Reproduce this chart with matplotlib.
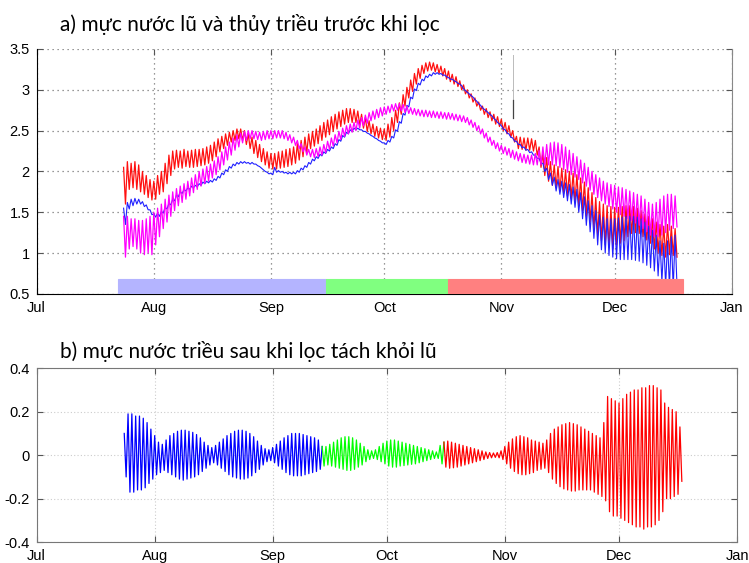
import numpy as np
import matplotlib
matplotlib.use("Agg")
import matplotlib.pyplot as plt

plt.rcParams['font.family'] = ['Liberation Sans', 'DejaVu Sans']

# day number counted from 1 July, one high + one low per day (diurnal tide)
days = np.arange(23, 170)

month_pos = [0, 31, 62, 92, 123, 153, 184]
month_names = ['Jul', 'Aug', 'Sep', 'Oct', 'Nov', 'Dec', 'Jan']

# ---- a) water level before filtering (m) ----
red_hi = [2.05, 2.12, 2.1, 2.12, 2.08, 2.0, 1.95, 1.9, 1.88, 1.95,
          2.0, 2.1, 2.2, 2.25, 2.26, 2.25, 2.27, 2.25, 2.26, 2.27,
          2.27, 2.28, 2.3, 2.32, 2.36, 2.4, 2.43, 2.46, 2.48, 2.5,
          2.52, 2.52, 2.5, 2.46, 2.42, 2.38, 2.33, 2.28, 2.24, 2.22,
          2.22, 2.24, 2.25, 2.27, 2.28, 2.3, 2.34, 2.38, 2.42, 2.46,
          2.49, 2.52, 2.56, 2.6, 2.63, 2.67, 2.7, 2.73, 2.75, 2.77,
          2.77, 2.76, 2.74, 2.7, 2.66, 2.62, 2.58, 2.55, 2.53, 2.52,
          2.58, 2.66, 2.75, 2.84, 2.94, 3.03, 3.12, 3.2, 3.26, 3.3,
          3.33, 3.34, 3.33, 3.31, 3.29, 3.26, 3.23, 3.19, 3.16, 3.11,
          3.06, 3.0, 2.95, 2.9, 2.85, 2.8, 2.77, 2.73, 2.7, 2.67,
          2.64, 2.6, 2.56, 2.5, 2.43, 2.42, 2.41, 2.41, 2.4, 2.38,
          2.3, 2.22, 2.17, 2.12, 2.08, 2.06, 2.04, 2.02, 2.0, 1.98,
          1.96, 1.92, 1.87, 1.8, 1.74, 1.68, 1.63, 1.6, 1.58, 1.57,
          1.56, 1.56, 1.57, 1.58, 1.58, 1.57, 1.55, 1.52, 1.48, 1.45,
          1.42, 1.38, 1.35, 1.33, 1.35, 1.33, 1.3]
red_lo = [1.6, 1.78, 1.8, 1.78, 1.75, 1.72, 1.68, 1.65, 1.66, 1.72,
          1.75, 1.85, 1.95, 2.03, 2.05, 2.04, 2.06, 2.05, 2.05, 2.06,
          2.07, 2.08, 2.1, 2.13, 2.18, 2.24, 2.28, 2.32, 2.36, 2.38,
          2.4, 2.38, 2.33, 2.28, 2.22, 2.17, 2.12, 2.08, 2.04, 2.03,
          2.03, 2.04, 2.05, 2.06, 2.08, 2.1, 2.14, 2.18, 2.23, 2.28,
          2.31, 2.34, 2.38, 2.42, 2.45, 2.49, 2.52, 2.55, 2.58, 2.6,
          2.6, 2.6, 2.57, 2.53, 2.49, 2.46, 2.43, 2.41, 2.39, 2.38,
          2.42, 2.5, 2.6, 2.7, 2.8, 2.9, 2.98, 3.07, 3.14, 3.2,
          3.23, 3.24, 3.22, 3.2, 3.17, 3.13, 3.1, 3.07, 3.04, 3.0,
          2.95, 2.9, 2.85, 2.8, 2.75, 2.7, 2.66, 2.62, 2.58, 2.55,
          2.5, 2.46, 2.42, 2.36, 2.28, 2.27, 2.26, 2.26, 2.25, 2.2,
          2.05, 1.95, 1.88, 1.83, 1.8, 1.76, 1.73, 1.7, 1.67, 1.63,
          1.58, 1.52, 1.45, 1.38, 1.3, 1.22, 1.15, 1.1, 1.07, 1.05,
          1.1, 1.12, 1.15, 1.2, 1.24, 1.25, 1.24, 1.2, 1.16, 1.12,
          1.05, 1.0, 0.97, 0.95, 0.98, 0.97, 0.95]

blue_hi = [1.55, 1.62, 1.66, 1.67, 1.66, 1.63, 1.59, 1.53, 1.48, 1.49,
           1.51, 1.56, 1.61, 1.66, 1.71, 1.75, 1.78, 1.8, 1.82, 1.83,
           1.85, 1.87, 1.88, 1.89, 1.91, 1.94, 1.98, 2.02, 2.06, 2.09,
           2.11, 2.12, 2.12, 2.11, 2.11, 2.09, 2.06, 2.02, 1.99, 1.98,
           2.05, 2.01, 2.0, 1.99, 1.99, 1.99, 2.01, 2.04, 2.07, 2.11,
           2.15, 2.18, 2.21, 2.24, 2.27, 2.3, 2.34, 2.39, 2.44, 2.48,
           2.51, 2.53, 2.53, 2.51, 2.49, 2.46, 2.43, 2.4, 2.37, 2.35,
           2.38, 2.43, 2.51, 2.61, 2.71, 2.81, 2.91, 3.01, 3.08, 3.13,
           3.17, 3.19, 3.21, 3.21, 3.2, 3.18, 3.15, 3.13, 3.1, 3.07,
           3.01, 2.97, 2.93, 2.88, 2.83, 2.78, 2.74, 2.7, 2.65, 2.6,
           2.56, 2.51, 2.46, 2.41, 2.37, 2.33, 2.3, 2.27, 2.24, 2.2,
           2.16, 2.1, 2.04, 1.98, 1.93, 1.9, 1.88, 1.86, 1.84, 1.81,
           1.78, 1.74, 1.69, 1.64, 1.58, 1.52, 1.47, 1.44, 1.42, 1.42,
           1.42, 1.43, 1.44, 1.45, 1.45, 1.45, 1.44, 1.42, 1.38, 1.33,
           1.28, 1.22, 1.15, 1.12, 1.15, 1.2, 1.22]
blue_lo = [1.35, 1.54, 1.58, 1.6, 1.6, 1.57, 1.53, 1.47, 1.44, 1.45,
           1.49, 1.54, 1.59, 1.64, 1.69, 1.73, 1.76, 1.78, 1.8, 1.81,
           1.83, 1.85, 1.86, 1.87, 1.89, 1.92, 1.96, 2.0, 2.04, 2.07,
           2.09, 2.1, 2.1, 2.09, 2.09, 2.07, 2.04, 2.0, 1.97, 1.96,
           1.99, 1.99, 1.98, 1.97, 1.97, 1.97, 1.99, 2.02, 2.05, 2.09,
           2.13, 2.16, 2.19, 2.22, 2.25, 2.28, 2.32, 2.37, 2.42, 2.46,
           2.49, 2.51, 2.51, 2.49, 2.47, 2.44, 2.41, 2.38, 2.35, 2.33,
           2.36, 2.41, 2.49, 2.59, 2.69, 2.79, 2.89, 2.99, 3.06, 3.11,
           3.15, 3.17, 3.19, 3.19, 3.18, 3.16, 3.13, 3.11, 3.08, 3.05,
           2.99, 2.95, 2.91, 2.86, 2.81, 2.76, 2.72, 2.68, 2.63, 2.58,
           2.52, 2.47, 2.42, 2.37, 2.33, 2.29, 2.26, 2.23, 2.2, 2.16,
           2.1, 2.0, 1.9, 1.83, 1.76, 1.72, 1.68, 1.64, 1.6, 1.56,
           1.5, 1.42, 1.34, 1.26, 1.18, 1.1, 1.04, 1.0, 0.97, 0.95,
           0.93, 0.92, 0.92, 0.92, 0.92, 0.91, 0.9, 0.88, 0.85, 0.82,
           0.78, 0.72, 0.65, 0.6, 0.58, 0.57, 0.6]

mag_hi = [1.45, 1.45, 1.42, 1.42, 1.4, 1.4, 1.42, 1.45, 1.5, 1.55,
          1.6, 1.66, 1.71, 1.75, 1.79, 1.82, 1.85, 1.88, 1.92, 1.96,
          2.0, 2.03, 2.06, 2.09, 2.13, 2.18, 2.24, 2.3, 2.36, 2.41,
          2.45, 2.47, 2.49, 2.5, 2.5, 2.49, 2.48, 2.49, 2.5, 2.5,
          2.5, 2.5, 2.5, 2.48, 2.45, 2.42, 2.38, 2.34, 2.3, 2.27,
          2.27, 2.28, 2.3, 2.33, 2.37, 2.41, 2.45, 2.49, 2.53, 2.56,
          2.58, 2.6, 2.63, 2.66, 2.69, 2.72, 2.74, 2.76, 2.78, 2.79,
          2.8, 2.82, 2.83, 2.83, 2.82, 2.8, 2.78, 2.77, 2.76, 2.75,
          2.75, 2.74, 2.74, 2.73, 2.73, 2.72, 2.72, 2.71, 2.7, 2.69,
          2.68, 2.66, 2.63, 2.6, 2.56, 2.52, 2.47, 2.42, 2.38, 2.35,
          2.32, 2.3, 2.28, 2.26, 2.24, 2.22, 2.21, 2.2, 2.2, 2.22,
          2.26, 2.3, 2.33, 2.35, 2.36, 2.35, 2.33, 2.3, 2.26, 2.22,
          2.18, 2.14, 2.1, 2.05, 2.0, 1.96, 1.92, 1.88, 1.86, 1.84,
          1.83, 1.81, 1.8, 1.78, 1.76, 1.74, 1.72, 1.7, 1.66, 1.62,
          1.6, 1.62, 1.66, 1.7, 1.72, 1.72, 1.7]
mag_lo = [0.95, 1.05, 1.08, 1.05, 1.0, 0.98, 1.0, 0.98, 1.1, 1.2,
          1.3, 1.38, 1.45, 1.52, 1.58, 1.62, 1.66, 1.7, 1.74, 1.78,
          1.82, 1.85, 1.88, 1.92, 1.96, 2.02, 2.08, 2.14, 2.2, 2.26,
          2.3, 2.35, 2.38, 2.4, 2.4, 2.39, 2.38, 2.39, 2.4, 2.4,
          2.41, 2.41, 2.4, 2.38, 2.35, 2.32, 2.28, 2.24, 2.2, 2.18,
          2.17, 2.18, 2.2, 2.23, 2.27, 2.31, 2.35, 2.39, 2.43, 2.46,
          2.48, 2.5, 2.53, 2.56, 2.59, 2.62, 2.64, 2.66, 2.68, 2.7,
          2.72, 2.74, 2.75, 2.74, 2.72, 2.71, 2.7, 2.69, 2.68, 2.67,
          2.67, 2.66, 2.66, 2.65, 2.65, 2.64, 2.64, 2.63, 2.62, 2.61,
          2.6, 2.57, 2.54, 2.5, 2.46, 2.41, 2.36, 2.32, 2.28, 2.25,
          2.22, 2.2, 2.17, 2.15, 2.13, 2.11, 2.1, 2.09, 2.08, 2.08,
          2.08, 2.08, 2.08, 2.08, 2.07, 2.05, 2.02, 1.99, 1.96, 1.93,
          1.9, 1.86, 1.82, 1.77, 1.72, 1.68, 1.64, 1.6, 1.57, 1.54,
          1.5, 1.47, 1.45, 1.42, 1.4, 1.37, 1.34, 1.3, 1.26, 1.22,
          1.2, 1.2, 1.22, 1.25, 1.28, 1.3, 1.32]

# flood periods shown as coloured band
period_start = [21.4, 76.7, 109.0]
period_end = [76.7, 109.0, 171.0]
period_colors = ['#b4b4ff', '#80ff80', '#ff8080']

# stray marks visible in the original figure
mark_day = 126.0
mark_light = [2.65, 3.43]
mark_dark = [2.65, 2.87]

# ---- b) tide after filtering (m) ----
tide_hi = [0.1, 0.19, 0.19, 0.18, 0.18, 0.17, 0.15, 0.12, 0.09, 0.06,
           0.05, 0.07, 0.09, 0.1, 0.11, 0.115, 0.115, 0.11, 0.105, 0.095,
           0.08, 0.06, 0.045, 0.035, 0.045, 0.06, 0.075, 0.09, 0.1, 0.11,
           0.115, 0.115, 0.11, 0.1, 0.085, 0.065, 0.045, 0.03, 0.025, 0.035,
           0.05, 0.065, 0.08, 0.09, 0.1, 0.1, 0.1, 0.095, 0.09, 0.085,
           0.08, 0.07, 0.04, 0.04, 0.05, 0.06, 0.07, 0.08, 0.085, 0.085,
           0.08, 0.07, 0.055, 0.04, 0.025, 0.02, 0.025, 0.04, 0.055, 0.065,
           0.07, 0.07, 0.065, 0.06, 0.055, 0.05, 0.045, 0.04, 0.035, 0.03,
           0.025, 0.02, 0.015, 0.045, 0.06, 0.065, 0.06, 0.055, 0.05, 0.045,
           0.04, 0.035, 0.03, 0.025, 0.02, 0.015, 0.012, 0.01, 0.012, 0.02,
           0.04, 0.06, 0.075, 0.085, 0.09, 0.085, 0.08, 0.07, 0.065, 0.06,
           0.055, 0.07, 0.1, 0.12, 0.13, 0.14, 0.145, 0.15, 0.145, 0.14,
           0.13, 0.12, 0.11, 0.1, 0.09, 0.08, 0.15, 0.27, 0.26, 0.25,
           0.24, 0.26, 0.28, 0.29, 0.3, 0.3, 0.31, 0.31, 0.32, 0.32,
           0.31, 0.3, 0.24, 0.22, 0.21, 0.2, 0.13]
tide_lo = [-0.1, -0.17, -0.17, -0.16, -0.16, -0.15, -0.13, -0.11, -0.09, -0.08,
           -0.07, -0.08, -0.09, -0.1, -0.11, -0.115, -0.11, -0.105, -0.1, -0.09,
           -0.075, -0.06, -0.045, -0.035, -0.045, -0.06, -0.075, -0.09, -0.1, -0.105,
           -0.11, -0.11, -0.105, -0.095, -0.08, -0.065, -0.045, -0.03, -0.025, -0.035,
           -0.05, -0.065, -0.08, -0.09, -0.095, -0.095, -0.095, -0.09, -0.085, -0.08,
           -0.075, -0.065, -0.05, -0.045, -0.05, -0.055, -0.06, -0.065, -0.07, -0.07,
           -0.065, -0.055, -0.045, -0.03, -0.02, -0.015, -0.02, -0.03, -0.04, -0.05,
           -0.055, -0.055, -0.05, -0.048, -0.045, -0.042, -0.04, -0.035, -0.03, -0.025,
           -0.02, -0.015, -0.015, -0.04, -0.055, -0.06, -0.058, -0.055, -0.05, -0.045,
           -0.04, -0.035, -0.03, -0.025, -0.02, -0.015, -0.012, -0.01, -0.012, -0.02,
           -0.04, -0.06, -0.075, -0.085, -0.09, -0.09, -0.085, -0.08, -0.07, -0.065,
           -0.06, -0.08, -0.11, -0.13, -0.145, -0.155, -0.16, -0.165, -0.165, -0.16,
           -0.16, -0.16, -0.16, -0.17, -0.18, -0.19, -0.21, -0.26, -0.28, -0.28,
           -0.29, -0.3, -0.31, -0.32, -0.33, -0.33, -0.34, -0.33, -0.33, -0.32,
           -0.3, -0.26, -0.2, -0.2, -0.19, -0.18, -0.12]
# last day of the blue and green parts of the tide curve
split_days = [74, 106]


def zigzag(hi, lo):
    t = np.column_stack([days, days + 0.5]).ravel()
    v = np.column_stack([hi, lo]).ravel()
    return t, v


title_font = ['Lato', 'Noto Sans', 'DejaVu Sans']

fig = plt.figure(figsize=(7.49, 5.63), dpi=100)
ax1 = fig.add_axes([0.049, 0.478, 0.928, 0.435])
ax2 = fig.add_axes([0.049, 0.037, 0.935, 0.309])

# top panel
for hi, lo, c, lw in [(red_hi, red_lo, '#ff1010', 0.9),
                      (blue_hi, blue_lo, '#2020ff', 0.8),
                      (mag_hi, mag_lo, '#ff00ff', 0.9)]:
    t, v = zigzag(hi, lo)
    ax1.plot(t, v, color=c, lw=lw, zorder=3)

for s, e, c in zip(period_start, period_end, period_colors):
    ax1.bar(s, 0.18, width=e - s, bottom=0.5, align='edge', color=c,
            edgecolor=c, lw=0.8, zorder=4)

ax1.plot([mark_day, mark_day], mark_light, color='#bbbbbb', lw=0.7)
ax1.plot([mark_day, mark_day], mark_dark, color='#444444', lw=0.9)

ax1.set_xlim(0, 184)
ax1.set_ylim(0.5, 3.5)
ax1.set_yticks([0.5, 1, 1.5, 2, 2.5, 3, 3.5])
ax1.set_yticklabels(['0.5', '1', '1.5', '2', '2.5', '3', '3.5'])
ax1.grid(True, color='#777777', linestyle=(0, (1, 3)), lw=0.9)
ax1.spines['top'].set_visible(False)
ax1.spines['right'].set_color('#888888')

# bottom panel
t, v = zigzag(tide_hi, tide_lo)
i1 = 2 * (split_days[0] - days[0]) + 2
i2 = 2 * (split_days[1] - days[0]) + 2
ax2.plot(t[:i1 + 1], v[:i1 + 1], color='#0000ff', lw=0.9)
ax2.plot(t[i1:i2 + 1], v[i1:i2 + 1], color='#00ff00', lw=0.9)
ax2.plot(t[i2:], v[i2:], color='#ff0000', lw=0.9)

ax2.set_xlim(0, 184)
ax2.set_ylim(-0.4, 0.4)
ax2.set_yticks([-0.4, -0.2, 0, 0.2, 0.4])
ax2.set_yticklabels(['-0.4', '-0.2', '0', '0.2', '0.4'])
ax2.grid(True, color='#cccccc', linestyle=(0, (1, 2)), lw=0.8)
for sp in ax2.spines.values():
    sp.set_color('#777777')

for ax in (ax1, ax2):
    ax.set_xticks(month_pos)
    ax.set_xticklabels(month_names)
    ax.set_axisbelow(True)
    ax.tick_params(direction='in', length=4, top=True, right=True,
                   labelsize=10.5, pad=5, color='#555555')

fig.text(0.080, 0.956, 'a) mực nước lũ và thủy triều trước khi lọc',
         family=title_font, fontsize=15, va='center')
fig.text(0.080, 0.375, 'b) mực nước triều sau khi lọc tách khỏi lũ',
         family=title_font, fontsize=15, va='center')

fig.savefig('out.png', dpi=100)
